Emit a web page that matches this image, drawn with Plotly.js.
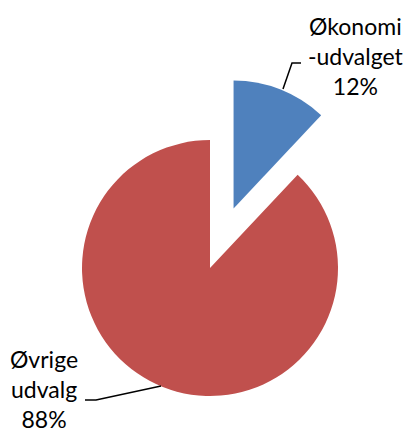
<!DOCTYPE html>
<html><head><meta charset="utf-8">
<script src="https://cdn.plot.ly/plotly-3.0.1.min.js"></script>
<style>html,body{margin:0;padding:0;overflow:hidden;background:#fff;}#chart{width:413px;height:470px;}</style>
</head><body><div id="chart"></div>
<script>
const labels = ["Økonomi-udvalget", "Øvrige udvalg"];
const values = [12, 88];
const colors = ["#4F81BD", "#C0504D"];
const pulls = [0.5, 0];
const labelTexts = ["Økonomi<br>-udvalget<br>12%", "Øvrige<br>udvalg<br>88%"];

const W = 413, H = 470;
const px = x => x / W, py = y => 1 - y / H;

const data = [{
  type: "pie",
  labels: labels,
  values: values,
  sort: false,
  direction: "clockwise",
  rotation: 0,
  pull: pulls,
  marker: {colors: colors, line: {width: 0}},
  textinfo: "none",
  hoverinfo: "label+percent",
  domain: {x: [18 / W, 402 / W], y: [1 - 460 / H, 1 - 76 / H]},
  showlegend: false
}];

const font = {family: "Lato, 'Open Sans', sans-serif", size: 23, color: "#000"};
const layout = {
  width: W, height: H,
  margin: {l: 0, r: 0, t: 0, b: 0},
  paper_bgcolor: "#fff",
  showlegend: false,
  annotations: [
    {text: labelTexts[0], x: px(356), y: py(56), xref: "paper", yref: "paper", showarrow: false, font: font, align: "center", xanchor: "center", yanchor: "middle"},
    {text: labelTexts[1], x: px(44), y: py(389), xref: "paper", yref: "paper", showarrow: false, font: font, align: "center", xanchor: "center", yanchor: "middle"}
  ],
  shapes: [
    {type: "path", xref: "paper", yref: "paper", path: `M ${px(301)} ${py(63)} L ${px(292)} ${py(63)} L ${px(283)} ${py(89)}`, line: {color: "#000", width: 1.5}},
    {type: "path", xref: "paper", yref: "paper", path: `M ${px(85)} ${py(400)} L ${px(96)} ${py(400)} L ${px(161)} ${py(386)}`, line: {color: "#000", width: 1.5}}
  ]
};
Plotly.newPlot("chart", data, layout, {displayModeBar: false, staticPlot: true});
</script></body></html>
